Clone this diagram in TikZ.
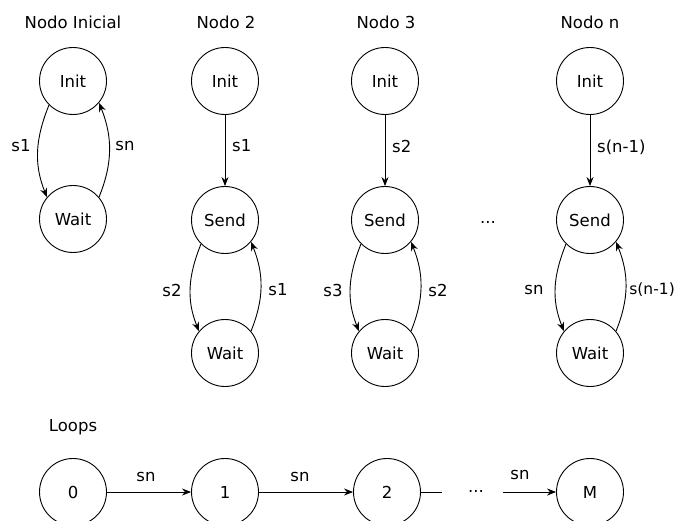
\documentclass[tikz,border=0pt]{standalone}
\usepackage{fontspec}
\setmainfont{DejaVu Sans}
\usetikzlibrary{arrows.meta}
\tikzset{
  state/.style={draw, circle, line width=0.9pt, minimum size=67pt, inner sep=0pt},
  arr/.style={line width=0.9pt, -{Stealth[length=9pt,width=7pt]}},
  plain/.style={line width=0.9pt},
  lbl/.style={inner sep=1pt},
  title/.style={inner sep=1pt},
}
\begin{document}
\begin{tikzpicture}[x=1pt, y=-1pt, font=\fontsize{16.5}{19}\selectfont]
\useasboundingbox (0,0) rectangle (677,521);

% column titles
\node[title] (t1) at (73,22)  {Nodo Inicial};
\node[title] (t2) at (226,22) {Nodo 2};
\node[title] (t3) at (386,22) {Nodo 3};
\node[title] (tn) at (590,22) {Nodo n};

% initial node
\node[state] (i1) at (73,81)  {Init};
\node[state] (w1) at (73,219) {Wait};
\draw[arr] (i1.225) to[out=248,in=112] (w1.140);
\draw[arr] (w1.40) to[out=68,in=292] (i1.-40);
\node[lbl] (l1a) at (21,146)  {s1};
\node[lbl] (l1b) at (125,146) {sn};

% node 2
\node[state] (i2) at (225,81)  {Init};
\node[state] (s2) at (225,220) {Send};
\node[state] (w2) at (225,353) {Wait};
\draw[arr] (i2) -- (s2);
\draw[arr] (s2.225) to[out=248,in=112] (w2.140);
\draw[arr] (w2.40) to[out=68,in=292] (s2.-40);
\node[lbl, anchor=west] (l2a) at (231,146) {s1};
\node[lbl] (l2b) at (172,290) {s2};
\node[lbl] (l2c) at (278,290) {s1};

% node 3
\node[state] (i3) at (385,81)  {Init};
\node[state] (s3) at (385,220) {Send};
\node[state] (w3) at (385,353) {Wait};
\draw[arr] (i3) -- (s3);
\draw[arr] (s3.225) to[out=248,in=112] (w3.140);
\draw[arr] (w3.40) to[out=68,in=292] (s3.-40);
\node[lbl, anchor=west] (l3a) at (391,146) {s2};
\node[lbl] (l3b) at (333,290) {s3};
\node[lbl] (l3c) at (438,290) {s2};

\node[lbl] (dots1) at (488,222) {...};

% node n
\node[state] (in) at (590,81)  {Init};
\node[state] (sn) at (590,220) {Send};
\node[state] (wn) at (590,353) {Wait};
\draw[arr] (in) -- (sn);
\draw[arr] (sn.225) to[out=248,in=112] (wn.140);
\draw[arr] (wn.40) to[out=68,in=292] (sn.-40);
\node[lbl, anchor=west] (lna) at (596,147) {s(n-1)};
\node[lbl] (lnb) at (534,290) {sn};
\node[lbl, anchor=east, font=\fontsize{15.5}{18}\selectfont] (lnc) at (676,290) {s(n-1)};

% loops row
\node[title] (tl) at (73,427) {Loops};
\node[state] (b0) at (73,492)  {0};
\node[state] (b1) at (225,492) {1};
\node[state] (b2) at (387,492) {2};
\node[state] (bm) at (590,492) {M};
\coordinate (c1) at (442,492);
\coordinate (c2) at (503,492);
\draw[arr] (b0) -- (b1);
\draw[arr] (b1) -- (b2);
\draw[plain] (b2) -- (c1);
\draw[arr] (c2) -- (bm);
\node[lbl] (dots2) at (476,491) {...};
\node[lbl] (lb1) at (146,477) {sn};
\node[lbl] (lb2) at (300,477) {sn};
\node[lbl] (lb3) at (520,475) {sn};
\end{tikzpicture}
\end{document}
